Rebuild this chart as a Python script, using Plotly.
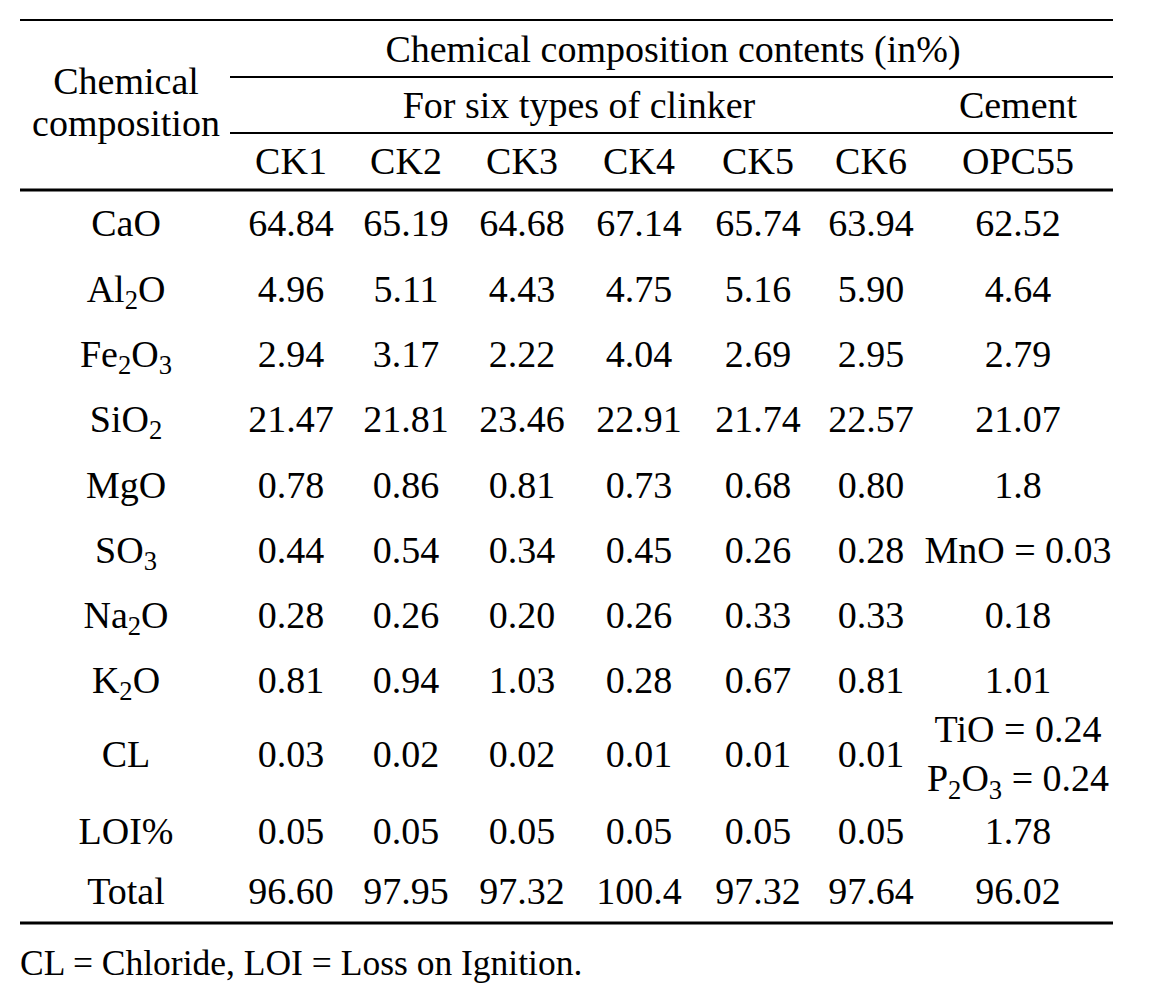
import plotly.graph_objects as go

# table contents (in %)
components = ["CaO", "Al<sub>2</sub>O", "Fe<sub>2</sub>O<sub>3</sub>", "SiO<sub>2</sub>", "MgO",
              "SO<sub>3</sub>", "Na<sub>2</sub>O", "K<sub>2</sub>O", "CL", "LOI%", "Total"]
ck1 = ["64.84", "4.96", "2.94", "21.47", "0.78", "0.44", "0.28", "0.81", "0.03", "0.05", "96.60"]
ck2 = ["65.19", "5.11", "3.17", "21.81", "0.86", "0.54", "0.26", "0.94", "0.02", "0.05", "97.95"]
ck3 = ["64.68", "4.43", "2.22", "23.46", "0.81", "0.34", "0.20", "1.03", "0.02", "0.05", "97.32"]
ck4 = ["67.14", "4.75", "4.04", "22.91", "0.73", "0.45", "0.26", "0.28", "0.01", "0.05", "100.4"]
ck5 = ["65.74", "5.16", "2.69", "21.74", "0.68", "0.26", "0.33", "0.67", "0.01", "0.05", "97.32"]
ck6 = ["63.94", "5.90", "2.95", "22.57", "0.80", "0.28", "0.33", "0.81", "0.01", "0.05", "97.64"]
opc55 = ["62.52", "4.64", "2.79", "21.07", "1.8", "MnO = 0.03", "0.18", "1.01",
         "TiO = 0.24<br>P<sub>2</sub>O<sub>3</sub> = 0.24", "1.78", "96.02"]

col_labels = ["CK1", "CK2", "CK3", "CK4", "CK5", "CK6", "OPC55"]
row_header = ["Chemical", "composition"]
title_header = "Chemical composition contents (in%)"
group_headers = ["For six types of clinker", "Cement"]
footnote = "CL = Chloride, LOI = Loss on Ignition."

# layout of the table (pixel space, page has an 8px body margin)
W, H = 1150, 997
M = 8
col_x = [126, 291, 406, 522, 639, 758, 871, 1018]
row_y = [226, 292, 357, 422, 488, 553, 618, 683, 757, 834, 894]
left, right = 20, 1113
font = dict(family="Liberation Serif, Times New Roman, serif", size=38, color="black")
note_font = dict(font, size=35.5)

fig = go.Figure()

def add_text(xs, ys, texts, pos="middle center", tf=font):
    fig.add_trace(go.Scatter(x=xs, y=ys, text=texts, mode="text",
                             textposition=pos, textfont=tf,
                             hoverinfo="skip", showlegend=False))

# body
columns = [components, ck1, ck2, ck3, ck4, ck5, ck6, opc55]
for cx, vals in zip(col_x, columns):
    add_text([cx] * len(vals), row_y, vals)

# headers
add_text([col_x[0]] * 2, [84, 126], row_header)
add_text([673], [52], [title_header])
add_text([579, col_x[-1]], [108, 108], group_headers)
add_text(col_x[1:], [164] * len(col_labels), col_labels)
add_text([left], [966], [footnote], pos="middle right", tf=note_font)

# rules
rules = [(left, 20, 2), (230, 77, 2), (230, 133, 2), (left, 190, 3), (left, 923, 3)]
for x0, y, w in rules:
    fig.add_shape(type="line", x0=x0, x1=right, y0=y, y1=y,
                  line=dict(color="black", width=w))

fig.update_layout(
    width=W - M, height=H - M,
    margin=dict(l=0, r=0, t=0, b=0),
    paper_bgcolor="white", plot_bgcolor="white",
    xaxis=dict(range=[M, W], visible=False, fixedrange=True),
    yaxis=dict(range=[H, M], visible=False, fixedrange=True),
)

fig.write_html("out.html")
